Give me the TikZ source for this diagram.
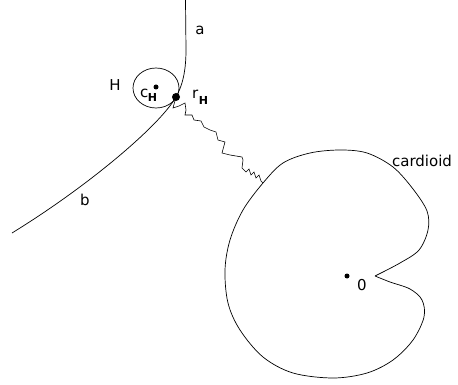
\documentclass[tikz,border=0pt]{standalone}
\usepackage{fontspec}
\setmainfont{DejaVu Sans}
\begin{document}
\begin{tikzpicture}[x=1pt,y=-1pt,
  curve/.style={line width=0.7pt},
  lbl/.style={inner sep=0pt,font=\fontsize{15}{15}\selectfont},
  dot/.style={circle,fill,inner sep=0pt,minimum size=#1},
  squig/.style={line width=0.6pt,line join=miter}]
\newcommand{\subH}[1]{\raisebox{#1}{\fontsize{11}{11}\selectfont\bfseries H}}
\useasboundingbox (0,0) rectangle (458,385);
% curve a / b
\draw[curve] (185.5,0) -- (186,50) .. controls (186,75) and (181,88) .. (176,97)
  .. controls (160,125) and (90,185) .. (12,233);
% circle H
\draw[curve] (156,88) ellipse [x radius=23, y radius=20];
\node[dot=5pt] (cH) at (156,87) {};
\node[dot=8pt] (rH) at (176,97) {};
% labels
\node[lbl] (la) at (200,30) {a};
\node[lbl] (lb) at (85,200) {b};
\node[lbl] (lH) at (115,85) {H};
\node[lbl,anchor=base west] (lc) at (140,98) {c\kern-0.5pt\subH{-4pt}};
\node[lbl,anchor=base west] (lr) at (192,99) {r\kern0.5pt\subH{-6pt}};
\node[lbl] (lcard) at (422,161) {cardioid};
\node[dot=5pt] (O) at (347,276) {};
\node[lbl] (lO) at (362,285) {0};
% cardioid
\draw[curve] plot[smooth,tension=0.55] coordinates {(375,276) (400,263) (419,250) (428,230) (427,211) (413,189) (393,167) (367,153) (340,150) (310,153) (283,163) (263,183) (243,210) (230,240) (225,270) (228,303) (240,330) (263,357) (293,373) (333,378) (367,373) (393,360) (413,340) (424,317) (422,300) (410,289) (390,282) (375,276)};
\coordinate (cp) at (263,183);
% squiggle connector
\draw[squig] (rH.center) -- (173,108) -- (179,106) -- (185,103) -- (186,110) -- (185,115)
  -- (192,115) -- (194,120) -- (201,121) -- (204,127) -- (210,130) -- (216,132)
  -- (218,140) -- (225,142) -- (222,153) -- (230,155) -- (242,157) -- (243,160)
  -- (242,168) -- (246,172) -- (249,169) -- (251,175) -- (254,172) -- (256,178)
  -- (259,175) -- (261,181) -- (cp);
\end{tikzpicture}
\end{document}
